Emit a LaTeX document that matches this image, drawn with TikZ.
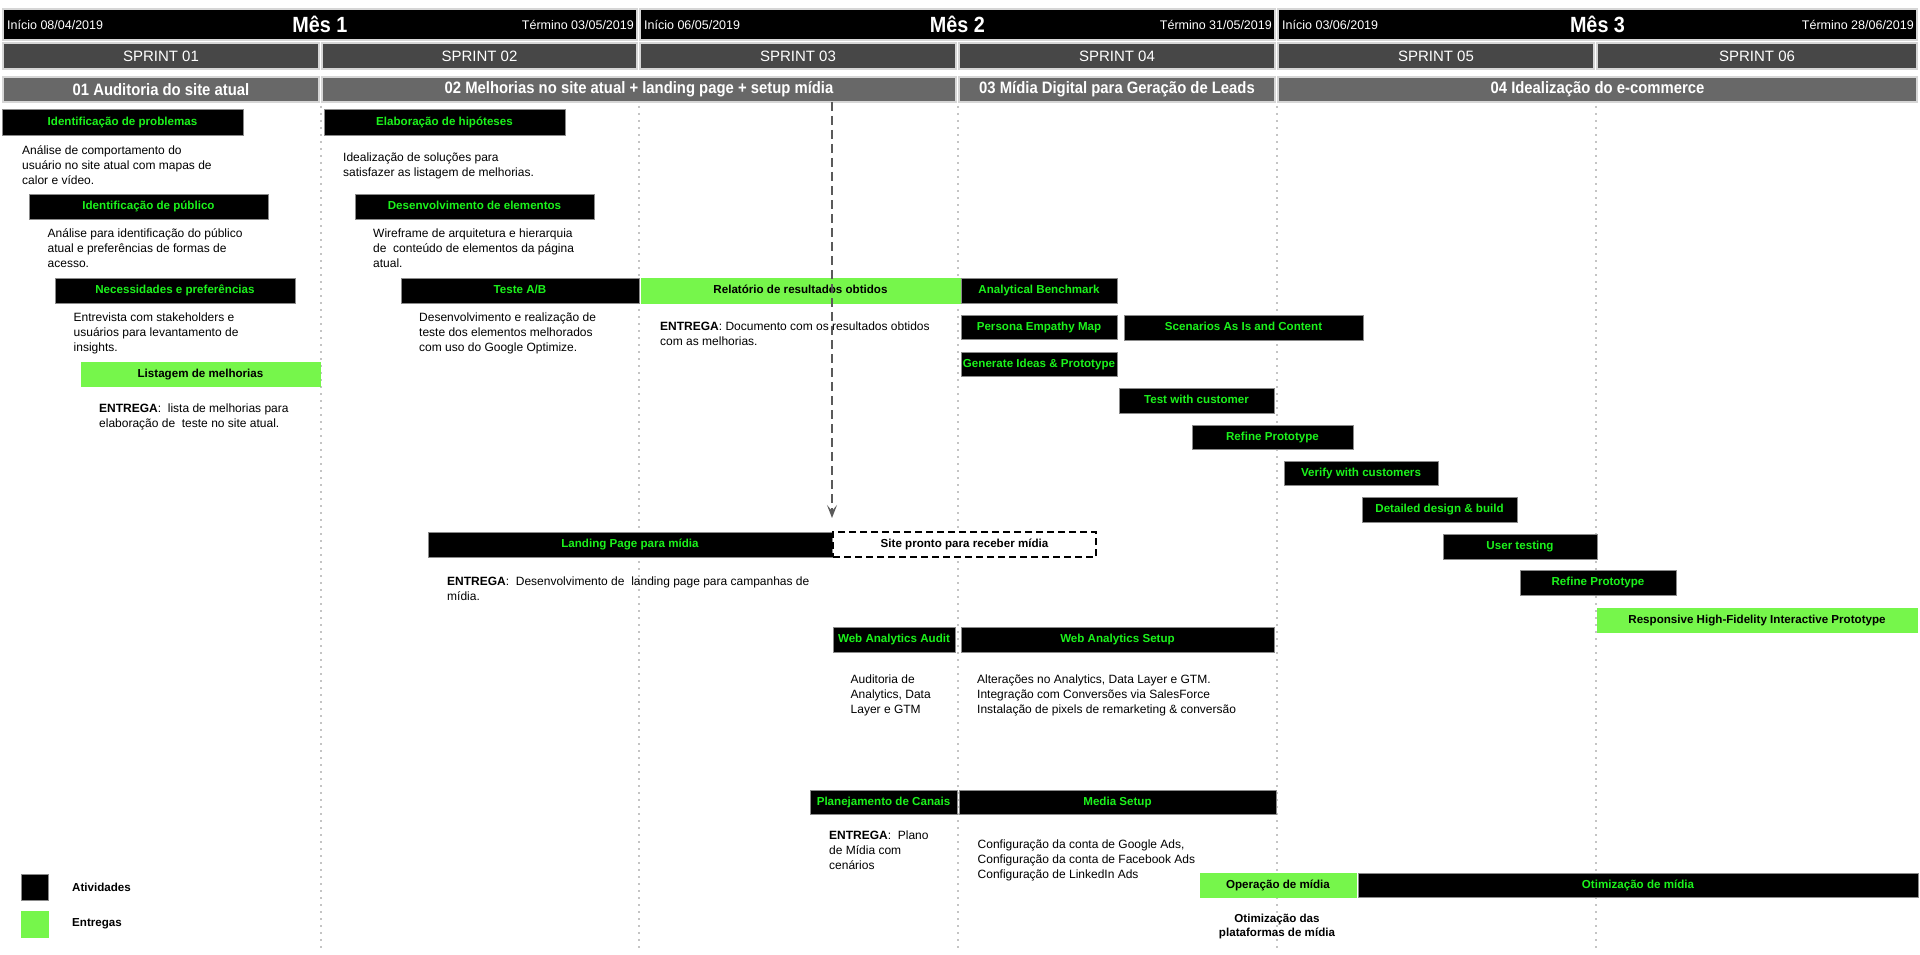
\documentclass[tikz,border=0pt]{standalone}
\usepackage{fontspec}
\setmainfont{Liberation Sans}
\newfontfamily\condf[FakeStretch=0.9]{Liberation Sans}
\usetikzlibrary{arrows.meta}
\definecolor{actgreen}{HTML}{1CF21C}
\definecolor{delgreen}{HTML}{76F64B}
\definecolor{sprintgray}{HTML}{474747}
\definecolor{phasegray}{HTML}{686868}
\definecolor{cellborder}{HTML}{D6D6D6}
\definecolor{gridgray}{HTML}{C4C4C4}
\definecolor{arrowgray}{HTML}{5A5A5A}
\definecolor{boxedge}{HTML}{8A8A8A}
\newcommand{\mlines}[1]{\begin{tabular}[t]{@{}l@{}}#1\end{tabular}}
\newcommand{\mlinesc}[1]{\begin{tabular}[t]{@{}c@{}}#1\end{tabular}}
\tikzset{
  box/.style={anchor=north west, inner sep=0pt, outer sep=0pt, line width=1pt,
    text height=8.5pt, text depth=2.5pt,
    font=\bfseries\fontsize{11.6}{14}\selectfont},
  act/.style={box, fill=black, draw=boxedge, text=actgreen},
  deliv/.style={box, fill=delgreen, draw=delgreen, text=black},
  pending/.style={box, fill=white, draw=black, line width=2pt, dash pattern=on 7pt off 4pt, text=black},
  month/.style={anchor=north west, inner sep=0pt, outer sep=0pt, fill=black, draw=cellborder, line width=2pt,
    text=white, font=\condf\bfseries\fontsize{22}{24}\selectfont},
  monthdate/.style={inner sep=0pt, text=white, font=\fontsize{12.5}{15}\selectfont},
  sprint/.style={anchor=north west, inner sep=0pt, outer sep=0pt, fill=sprintgray, draw=cellborder, line width=2pt,
    text=white, minimum height=26pt, font=\fontsize{15}{18}\selectfont},
  phase/.style={anchor=north west, inner sep=0pt, outer sep=0pt, fill=phasegray, draw=cellborder, line width=2pt,
    text=white, minimum height=25pt, font=\condf\bfseries\fontsize{16.5}{18}\selectfont},
  txt/.style={anchor=base west, inner sep=0pt, font=\fontsize{12}{15}\selectfont},
  grid/.style={gridgray, line width=2pt, dash pattern=on 2pt off 5pt},
  flow/.style={arrowgray, line width=1.5pt, dash pattern=on 9pt off 5pt,
    -{Stealth[length=13pt,width=10pt,inset=6pt]}},
  legendtxt/.style={anchor=west, inner sep=0pt, font=\bfseries\fontsize{11.6}{14}\selectfont}
}
\begin{document}
\begin{tikzpicture}[x=1pt,y=-1pt]
\useasboundingbox (0,0) rectangle (1920,955);
\fill[white] (0,0) rectangle (1920,955);

% grid lines
\draw[grid] (320.5,106) -- (320.5,948);
\draw[grid] (638.5,106) -- (638.5,948);
\draw[grid] (957.5,106) -- (957.5,948);
\draw[grid] (1276.5,106) -- (1276.5,948);
\draw[grid] (1595.5,106) -- (1595.5,948);

% months
\node[month, minimum width=634pt, minimum height=31pt] (m1) at (3,9) {Mês 1};
\node[month, minimum width=635pt, minimum height=31pt] (m2) at (640,9) {Mês 2};
\node[month, minimum width=639pt, minimum height=31pt] (m3) at (1278,9) {Mês 3};
\node[monthdate, anchor=west] (m1a) at ([xshift=4pt]m1.west) {Início 08/04/2019};
\node[monthdate, anchor=east] (m1b) at ([xshift=-3pt]m1.east) {Término 03/05/2019};
\node[monthdate, anchor=west] (m2a) at ([xshift=4pt]m2.west) {Início 06/05/2019};
\node[monthdate, anchor=east] (m2b) at ([xshift=-3pt]m2.east) {Término 31/05/2019};
\node[monthdate, anchor=west] (m3a) at ([xshift=4pt]m3.west) {Início 03/06/2019};
\node[monthdate, anchor=east] (m3b) at ([xshift=-3pt]m3.east) {Término 28/06/2019};

% sprints
\node[sprint, minimum width=316pt] (s1) at (3,43) {SPRINT 01};
\node[sprint, minimum width=315pt] (s2) at (322,43) {SPRINT 02};
\node[sprint, minimum width=316pt] (s3) at (640,43) {SPRINT 03};
\node[sprint, minimum width=316pt] (s4) at (959,43) {SPRINT 04};
\node[sprint, minimum width=316pt] (s5) at (1278,43) {SPRINT 05};
\node[sprint, minimum width=320pt] (s6) at (1597,43) {SPRINT 06};

% phases
\node[phase, minimum width=316pt] (p1) at (3,77) {01 Auditoria do site atual};
\node[phase, minimum width=634pt] (p2) at (322,77) {02 Melhorias no site atual + landing page + setup mídia};
\node[phase, minimum width=316pt] (p3) at (959,77) {03 Mídia Digital para Geração de Leads};
\node[phase, minimum width=639pt] (p4) at (1278,77) {04 Idealização do e-commerce};

% sprint 01
\node[act, minimum width=241pt, minimum height=26pt] (a1) at (2,110) {Identificação de problemas};
\node[txt] (t1) at (22,154) {\mlines{Análise de comportamento do\\usuário no site atual com mapas de\\calor e vídeo.}};
\node[act, minimum width=239pt, minimum height=25pt] (a2) at (29,194) {Identificação de público};
\node[txt] (t2) at (47.5,237.5) {\mlines{Análise para identificação do público\\atual e preferências de formas de\\acesso.}};
\node[act, minimum width=240pt, minimum height=25pt] (a3) at (55,278) {Necessidades e preferências};
\node[txt] (t3) at (73.5,321.5) {\mlines{Entrevista com stakeholders e\\usuários para levantamento de\\insights.}};
\node[deliv, minimum width=239pt, minimum height=24pt] (d1) at (81,362) {Listagem de melhorias};
\node[txt] (t4) at (99,412.5) {\mlines{\textbf{ENTREGA}:\ \ lista de melhorias para\\elaboração de\ \ teste no site atual.}};

% sprint 02
\node[act, minimum width=241pt, minimum height=26pt] (a4) at (324,110) {Elaboração de hipóteses};
\node[txt] (t5) at (343,161.5) {\mlines{Idealização de soluções para\\satisfazer as listagem de melhorias.}};
\node[act, minimum width=239pt, minimum height=25pt] (a5) at (355,194) {Desenvolvimento de elementos};
\node[txt] (t6) at (373,237.5) {\mlines{Wireframe de arquitetura e hierarquia\\de\ \ conteúdo de elementos da página\\atual.}};
\node[act, minimum width=238pt, minimum height=25pt] (a6) at (401,278) {Teste A/B};
\node[txt] (t7) at (419,321.5) {\mlines{Desenvolvimento e realização de\\teste dos elementos melhorados\\com uso do Google Optimize.}};

% sprint 03
\node[deliv, minimum width=319pt, minimum height=25pt] (d2) at (641,278) {Relatório de resultados obtidos};
\node[txt] (t8) at (660,330) {\mlines{\textbf{ENTREGA}: Documento com os resultados obtidos\\com as melhorias.}};

% design thinking track
\node[act, minimum width=156pt, minimum height=25pt] (a7) at (961,278) {Analytical Benchmark};
\node[act, minimum width=156pt, minimum height=24pt] (a8) at (961,315) {Persona Empathy Map};
\node[act, minimum width=239pt, minimum height=25pt] (a9) at (1124,315) {Scenarios As Is and Content};
\node[act, minimum width=156pt, minimum height=24pt] (a10) at (961,352) {Generate Ideas \& Prototype};
\node[act, minimum width=155pt, minimum height=25pt] (a11) at (1119,388) {Test with customer};
\node[act, minimum width=161pt, minimum height=24pt] (a12) at (1192,425) {Refine Prototype};
\node[act, minimum width=154pt, minimum height=24pt] (a13) at (1284,461) {Verify with customers};
\node[act, minimum width=155pt, minimum height=25pt] (a14) at (1362,497) {Detailed design \& build};
\node[act, minimum width=154pt, minimum height=25pt] (a15) at (1443,534) {User testing};
\node[act, minimum width=156pt, minimum height=25pt] (a16) at (1520,570) {Refine Prototype};
\node[deliv, minimum width=320pt, minimum height=24pt] (d3) at (1597,608) {Responsive High-Fidelity Interactive Prototype};

% landing page
\node[act, minimum width=404pt, minimum height=25pt] (a17) at (428,532) {Landing Page para mídia};
\node[pending, minimum width=263pt, minimum height=25pt] (x1) at (833,532) {Site pronto para receber mídia};
\node[txt] (t9) at (447,585) {\mlines{\textbf{ENTREGA}:\ \ Desenvolvimento de\ \ landing page para campanhas de\\mídia.}};
\draw[flow] (p2.south -| a17.east) -- ([yshift=14pt]a17.north east);

% web analytics
\node[act, minimum width=122pt, minimum height=25pt] (a18) at (833,627) {Web Analytics Audit};
\node[act, minimum width=313pt, minimum height=25pt] (a19) at (961,627) {Web Analytics Setup};
\node[txt] (t10) at (850.5,683) {\mlines{Auditoria de\\Analytics, Data\\Layer e GTM}};
\node[txt] (t11) at (977,683) {\mlines{Alterações no Analytics, Data Layer e GTM.\\Integração com Conversões via SalesForce\\Instalação de pixels de remarketing \& conversão}};

% media
\node[act, minimum width=147pt, minimum height=24pt] (a20) at (810,790) {Planejamento de Canais};
\node[act, minimum width=317pt, minimum height=24pt] (a21) at (959,790) {Media Setup};
\node[txt] (t12) at (829,839) {\mlines{\textbf{ENTREGA}:\ \ Plano\\de Mídia com\\cenários}};
\node[txt] (t13) at (977.5,848) {\mlines{Configuração da conta de Google Ads,\\Configuração da conta de Facebook Ads\\Configuração de LinkedIn Ads}};
\node[deliv, minimum width=156pt, minimum height=24pt] (d4) at (1200,873) {Operação de mídia};
\node[act, minimum width=560pt, minimum height=24pt] (a22) at (1358,873) {Otimização de mídia};
\node[anchor=base, inner sep=0pt, font=\bfseries\fontsize{11.6}{14}\selectfont] (t14) at (1277,922) {\mlinesc{Otimização das\\plataformas de mídia}};

% legend
\node[box, fill=black, draw=boxedge, minimum width=27pt, minimum height=26pt] (lg1) at (21,874) {};
\node[box, fill=delgreen, draw=delgreen, minimum width=27pt, minimum height=26pt] (lg2) at (21,911) {};
\node[legendtxt] (lg1t) at (72,887) {Atividades};
\node[legendtxt] (lg2t) at (72,924) {Entregas};
\end{tikzpicture}
\end{document}
